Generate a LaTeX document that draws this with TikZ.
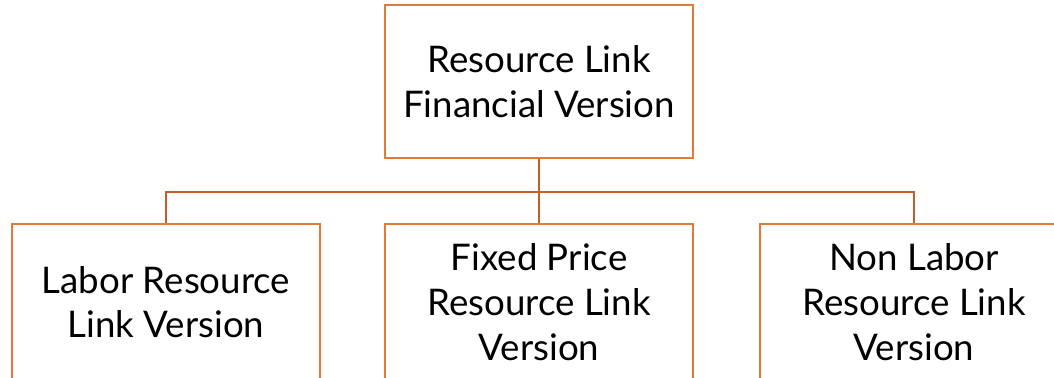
\documentclass[tikz,border=0pt]{standalone}
\usepackage{fontspec}
\setmainfont{Lato}
\usetikzlibrary{positioning}
\definecolor{boxorange}{HTML}{E07B39}
\definecolor{linkorange}{HTML}{C45E28}

\begin{document}
\begin{tikzpicture} [x=0.75pt,y=-0.75pt,
			every node/.style={font=\fontsize{27.5}{33.5}\selectfont},
			version/.style={draw=boxorange,line width=1.5pt,fill=white,align=center,
				minimum width=231pt,minimum height=114.5pt,inner sep=0pt},
			link/.style={draw=linkorange,line width=1.5pt}]

		\clip (0,0) rectangle (1054,378);

		\node [version] (top) at (539,81.5) {Resource Link\\Financial Version};
		\node [version, minimum height=117pt] (labor) at (166,302) {Labor Resource\\Link Version};
		\node [version, minimum height=117pt] (fixed) at (539,302) {Fixed Price\\Resource Link\\Version};
		\node [version, minimum height=117pt] (nonlabor) at (914,302) {Non Labor\\Resource Link\\Version};

		\coordinate (bus) at (539,192);
		\draw [link] (top.south) -- (bus);
		\draw [link] (bus) -| (labor.north);
		\draw [link] (bus) -- (fixed.north);
		\draw [link] (bus) -| (nonlabor.north);

		\end{tikzpicture}
\end{document}
